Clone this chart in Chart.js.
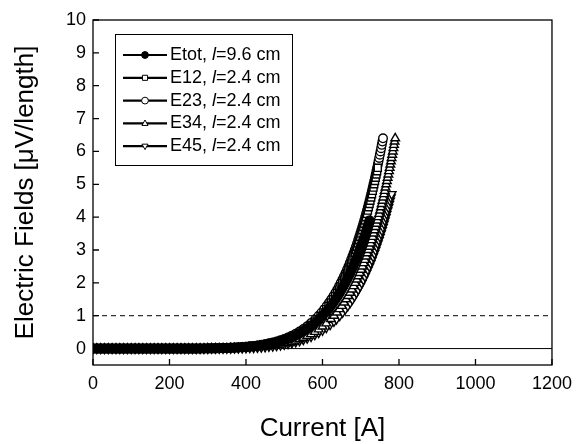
<!DOCTYPE html>
<html><head><meta charset="utf-8">
<script src="https://cdn.jsdelivr.net/npm/chart.js@4.4.1/dist/chart.umd.min.js"></script>
<style>html,body{margin:0;padding:0;background:#fff}canvas{display:block}</style>
</head><body>
<canvas id="c" width="580" height="444"></canvas>
<script>
// ---- data ----
// shared current grid for the low-field part (A)
const currentGrid = [0,10,20,30,40,50,60,70,80,90,100,110,120,130,140,150,160,170,180,190,200,210,220,230,240,250,260,270,280,290,300,310,320,330,340,350,360,370,380,390,400,410,420,430,440,450,460,470,480,490,500,510,520,530,540,550,560,570,580,590,600,610,620,630];
// shared field grid for the steep part (uV/length)
const fieldGrid = [0.9,1.0,1.1,1.2,1.3,1.4,1.5,1.6,1.7,1.8,1.9,2.0,2.1,2.2,2.3,2.4,2.5,2.6,2.7,2.8,2.9,3.0,3.1,3.2,3.3,3.4,3.5,3.6,3.7,3.8,3.9,4.0,4.1,4.2,4.3,4.4,4.5,4.6,4.7,4.8,4.9,5.0,5.1,5.2,5.3,5.4,5.5,5.6,5.7,5.8,5.9,6.0,6.1,6.2,6.3,6.4];

const seriesNames = ['Etot','E12','E23','E34','E45'];
const tapLengths = ['9.6','2.4','2.4','2.4','2.4'];

// fields at currentGrid
const etotLow = [0,0,0,0,0,0,0,0,0,0,0,0,0,0,0,0,0,0,0,0,0,0,0,0,0,0.002,0.002,0.003,0.004,0.005,0.006,0.008,0.010,0.013,0.016,0.020,0.024,0.029,0.036,0.043,0.052,0.062,0.074,0.088,0.104,0.123,0.144,0.168,0.196,0.228,0.264,0.305,0.352,0.404,0.463,0.530,0.604,0.688,0.781];
const e12Low = [0,0,0,0,0,0,0,0,0,0,0,0,0,0,0,0,0,0,0,0,0,0,0,0,0,0.001,0.002,0.003,0.003,0.004,0.006,0.007,0.009,0.011,0.014,0.018,0.022,0.027,0.033,0.040,0.049,0.059,0.071,0.085,0.101,0.120,0.142,0.167,0.196,0.229,0.267,0.310,0.359,0.415,0.479,0.550,0.631,0.722,0.824];
const e23Low = [0,0,0,0,0,0,0,0,0,0,0,0,0,0,0,0,0,0,0,0,0,0,0,0,0,0.002,0.002,0.003,0.004,0.005,0.007,0.009,0.011,0.014,0.017,0.021,0.026,0.032,0.039,0.047,0.056,0.068,0.081,0.096,0.114,0.135,0.159,0.186,0.217,0.253,0.294,0.340,0.393,0.452,0.519,0.595,0.680,0.775];
const e34Low = [0,0,0,0,0,0,0,0,0,0,0,0,0,0,0,0,0,0,0,0,0,0,0,0,0,0,0,0,0,0,0.002,0.003,0.004,0.005,0.006,0.008,0.010,0.013,0.016,0.020,0.024,0.030,0.036,0.044,0.053,0.063,0.076,0.091,0.108,0.127,0.150,0.177,0.207,0.242,0.283,0.328,0.381,0.440,0.508,0.584,0.670,0.767];
const e45Low = [0,0,0,0,0,0,0,0,0,0,0,0,0,0,0,0,0,0,0,0,0,0,0,0,0,0,0,0,0,0,0.002,0.003,0.003,0.004,0.006,0.007,0.009,0.011,0.014,0.017,0.021,0.026,0.031,0.038,0.045,0.054,0.065,0.077,0.091,0.108,0.127,0.149,0.175,0.204,0.237,0.275,0.318,0.368,0.423,0.486,0.557,0.636,0.726,0.827];

// currents at fieldGrid
const etotHigh = [591.4,600.0,607.9,615.2,622.0,628.3,634.3,639.9,645.2,650.3,655.1,659.8,664.2,668.4,672.5,676.4,680.2,683.9,687.5,690.9,694.2,697.4,700.6,703.6,706.6,709.5,712.3,715.1,717.8,720.4,723.0];
const e12High = [586.8,595.0,602.5,609.4,615.9,621.9,627.6,633.0,638.0,642.8,647.4,651.8,656.0,660.0,663.9,667.6,671.2,674.7,678.1,681.3,684.5,687.5,690.5,693.4,696.2,698.9,701.6,704.2,706.8,709.3,711.7,714.1,716.4,718.7,720.9,723.1,725.2,727.3,729.4,731.4,733.4,735.3,737.3,739.1,741.0,742.8,744.6];
const e23High = [581.7,590.0,597.6,604.7,611.3,617.4,623.2,628.7,633.9,638.8,643.5,647.9,652.2,656.3,660.3,664.1,667.8,671.3,674.8,678.1,681.3,684.4,687.5,690.4,693.3,696.1,698.8,701.5,704.1,706.6,709.1,711.6,713.9,716.3,718.6,720.8,723.0,725.1,727.2,729.3,731.3,733.3,735.3,737.2,739.1,741.0,742.8,744.7,746.4,748.2,749.9,751.6,753.3,755.0,756.6,758.2];
const e34High = [622.0,630.0,637.4,644.2,650.5,656.4,661.9,667.2,672.1,676.8,681.3,685.6,689.7,693.6,697.4,701.0,704.5,707.9,711.1,714.3,717.3,720.3,723.2,726.0,728.7,731.4,734.0,736.5,739.0,741.4,743.7,746.0,748.3,750.5,752.7,754.8,756.8,758.9,760.9,762.8,764.7,766.6,768.5,770.3,772.1,773.9,775.6,777.3,779.0,780.6,782.3,783.9,785.4,787.0,788.5,790.1];
const e45High = [636.7,645.0,652.6,659.7,666.2,672.4,678.1,683.5,688.7,693.5,698.2,702.6,706.9,710.9,714.9,718.6,722.3,725.8,729.1,732.4,735.6,738.7,741.7,744.6,747.4,750.2,752.9,755.5,758.1,760.6,763.0,765.4,767.7,770.0,772.3,774.5,776.6,778.7,780.8];

const xTickValues = [0,200,400,600,800,1000,1200];
const yTickValues = [0,1,2,3,4,5,6,7,8,9,10];
const criterionLevel = 1;

// ---- build ----
function buildSeries(low, high) {
  const pts = low.map((e, i) => ({x: currentGrid[i], y: e}));
  return pts.concat(high.map((c, j) => ({x: c, y: fieldGrid[j]})));
}
const styles = [
  {pointStyle: 'circle', fill: '#000', rot: 0, r: 4.5},
  {pointStyle: 'rect', fill: '#fff', rot: 0, r: 5},
  {pointStyle: 'circle', fill: '#fff', rot: 0, r: 4.3},
  {pointStyle: 'triangle', fill: '#fff', rot: 0, r: 5},
  {pointStyle: 'triangle', fill: '#fff', rot: 180, r: 5}
];
const lows = [etotLow, e12Low, e23Low, e34Low, e45Low];
const highs = [etotHigh, e12High, e23High, e34High, e45High];

const datasets = seriesNames.map((n, i) => ({
  label: n,
  data: buildSeries(lows[i], highs[i]),
  showLine: true,
  borderColor: '#000',
  borderWidth: 1,
  pointStyle: styles[i].pointStyle,
  pointRotation: styles[i].rot,
  pointRadius: styles[i].r,
  pointBorderWidth: 1.4,
  pointBorderColor: '#000',
  pointBackgroundColor: styles[i].fill,
  backgroundColor: styles[i].fill
}));
datasets.push({
  label: 'criterion', data: [{x: xTickValues[0], y: criterionLevel}, {x: xTickValues[xTickValues.length-1], y: criterionLevel}],
  showLine: true, borderColor: '#000', borderWidth: 1, borderDash: [5, 4], pointRadius: 0
});
datasets.push({
  label: 'zero', data: [{x: xTickValues[0], y: 0}, {x: xTickValues[xTickValues.length-1], y: 0}],
  showLine: true, borderColor: '#000', borderWidth: 1, pointRadius: 0
});

function drawMarker(ctx, st, x, y, r) {
  ctx.beginPath();
  if (st.pointStyle === 'circle') {
    ctx.arc(x, y, r, 0, Math.PI * 2);
  } else if (st.pointStyle === 'rect') {
    const s = r * 0.75;
    ctx.rect(x - s, y - s, 2 * s, 2 * s);
  } else {
    const d = st.rot ? -1 : 1;
    ctx.moveTo(x, y - d * r);
    ctx.lineTo(x + r * 0.9, y + d * r * 0.6);
    ctx.lineTo(x - r * 0.9, y + d * r * 0.6);
    ctx.closePath();
  }
  ctx.fillStyle = st.fill;
  ctx.fill();
  ctx.lineWidth = 1;
  ctx.strokeStyle = '#000';
  ctx.stroke();
}

const FONT = '"Liberation Sans", Arial, Helvetica, sans-serif';
const framePlugin = {
  id: 'frame',
  afterDatasetsDraw(chart) {
    const {ctx, chartArea: a, scales: {x, y}} = chart;
    ctx.save();
    ctx.strokeStyle = '#000';
    ctx.lineWidth = 1.3;
    ctx.strokeRect(a.left, a.top, a.right - a.left, a.bottom - a.top);
    ctx.beginPath();
    x.ticks.forEach(t => { const px = x.getPixelForValue(t.value); ctx.moveTo(px, a.bottom); ctx.lineTo(px, a.bottom - 6); });
    y.ticks.forEach(t => { const py = y.getPixelForValue(t.value); ctx.moveTo(a.left, py); ctx.lineTo(a.left + 6, py); });
    ctx.stroke();
    ctx.restore();
  },
  afterDraw(chart) {
    const {ctx, chartArea: a} = chart;
    ctx.save();
    const bx = a.left + 22, by = a.top + 14, bw = 177, bh = 131;
    ctx.fillStyle = '#fff';
    ctx.fillRect(bx, by, bw, bh);
    ctx.strokeStyle = '#000';
    ctx.lineWidth = 1;
    ctx.strokeRect(bx + 0.5, by + 0.5, bw, bh);
    seriesNames.forEach((n, i) => {
      const ry = by + 21 + i * 22.8;
      ctx.beginPath();
      ctx.lineWidth = 2.2;
      ctx.strokeStyle = '#000';
      ctx.moveTo(bx + 8, ry);
      ctx.lineTo(bx + 52, ry);
      ctx.stroke();
      drawMarker(ctx, styles[i], bx + 30, ry, 3.4);
      ctx.fillStyle = '#000';
      ctx.textBaseline = 'middle';
      ctx.textAlign = 'left';
      let tx = bx + 55;
      ctx.font = '18px ' + FONT;
      const s1 = n + ', ';
      ctx.fillText(s1, tx, ry); tx += ctx.measureText(s1).width;
      ctx.font = 'italic 18px ' + FONT;
      ctx.fillText('l', tx, ry); tx += ctx.measureText('l').width;
      ctx.font = '18px ' + FONT;
      ctx.fillText('=' + tapLengths[i] + ' cm', tx, ry);
    });
    ctx.restore();
  }
};

Chart.defaults.font.family = FONT;
Chart.defaults.color = '#000';

new Chart(document.getElementById('c'), {
  type: 'scatter',
  data: {datasets},
  options: {
    responsive: false,
    animation: false,
    events: [],
    layout: {padding: {top: 20, right: 25, left: 0, bottom: 0}},
    plugins: {legend: {display: false}, tooltip: {enabled: false}},
    scales: {
      x: {
        type: 'linear', min: 0, max: 1200,
        afterBuildTicks: s => { s.ticks = xTickValues.map(v => ({value: v})); },
        afterFit: s => { s.height = 79; },
        grid: {display: false, drawTicks: false},
        border: {display: false},
        ticks: {font: {size: 18}, padding: 8, color: '#000', maxRotation: 0, callback: v => String(v)},
        title: {display: true, text: 'Current [A]', font: {size: 26}, padding: {top: 0, bottom: 0}, color: '#000'}
      },
      y: {
        type: 'linear', min: -0.5, max: 10,
        afterBuildTicks: s => { s.ticks = yTickValues.map(v => ({value: v})); },
        afterFit: s => { s.width = 93; },
        grid: {display: false, drawTicks: false},
        border: {display: false},
        ticks: {font: {size: 18}, padding: 7, color: '#000', callback: v => String(v)},
        title: {display: true, text: 'Electric Fields [\u03bcV/length]', font: {size: 26}, padding: {top: 10, bottom: 0}, color: '#000'}
      }
    }
  },
  plugins: [framePlugin]
});
</script>
</body></html>
